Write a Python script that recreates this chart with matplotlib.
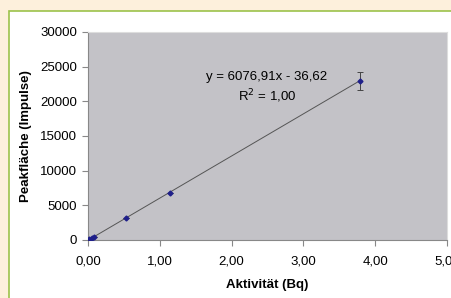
import matplotlib.pyplot as plt
from matplotlib.patches import Rectangle
from matplotlib.ticker import FuncFormatter
import numpy as np

plt.rcParams['font.family'] = ['Liberation Sans', 'DejaVu Sans']

# data
activity = [0.02, 0.05, 0.08, 0.53, 1.14, 3.79]
peak_area = [90, 260, 450, 3130, 6820, 22930]
peak_err = [0, 0, 0, 0, 0, 1300]
slope, intercept = 6076.91, -36.62
x_ticks = [0, 1, 2, 3, 4, 5]
y_ticks = [0, 5000, 10000, 15000, 20000, 25000, 30000]

fig = plt.figure(figsize=(4.52, 2.98), dpi=100)
fig.patch.set_facecolor('#fdf0dc')

# white panel with green frame
fig.patches.append(Rectangle((9 / 452, -0.1), 1.1, (298 - 11) / 298 + 0.1,
                             transform=fig.transFigure, facecolor='white',
                             edgecolor='#9cc24a', linewidth=1.2, zorder=-1))

ax = fig.add_axes([88 / 452, 1 - 240 / 298, (447 - 88) / 452, (240 - 32) / 298])
ax.set_facecolor('#c3c2c7')

xs = np.linspace(0, max(activity), 50)
ax.plot(xs, slope * xs + intercept, color='#555555', linewidth=0.7, zorder=2)
ax.errorbar(activity, peak_area, yerr=peak_err, fmt='D', color='#1f1f8a',
            markersize=2.5, ecolor='#444444', elinewidth=0.7, capsize=2,
            capthick=0.7, zorder=3)

ax.set_xlim(0, 5)
ax.set_ylim(0, 30000)
ax.set_xticks(x_ticks)
ax.set_yticks(y_ticks)
ax.xaxis.set_major_formatter(FuncFormatter(lambda v, p: f'{v:.2f}'.replace('.', ',')))
ax.tick_params(labelsize=9.5, length=4, color='#888888', width=0.8)
ax.tick_params(axis='x', pad=7)
ax.tick_params(axis='y', pad=4)

for side in ['top', 'right']:
    ax.spines[side].set_color('#dddddd')
    ax.spines[side].set_linewidth(0.8)
for side in ['left', 'bottom']:
    ax.spines[side].set_color('#888888')
    ax.spines[side].set_linewidth(0.8)

ax.set_xlabel('Aktivität (Bq)', fontsize=9.5, fontweight='bold', labelpad=8.5)
ax.set_ylabel('Peakfläche (Impulse)', fontsize=9.5, fontweight='bold', labelpad=6)

ax.text(2.49, 23500, 'y = 6076,91x - 36,62', fontsize=9.5, ha='center', va='center')
ax.text(2.49, 20800, 'R$^2$ = 1,00', fontsize=9.5, ha='center', va='center')

fig.savefig('out.png', dpi=100, facecolor=fig.get_facecolor())
